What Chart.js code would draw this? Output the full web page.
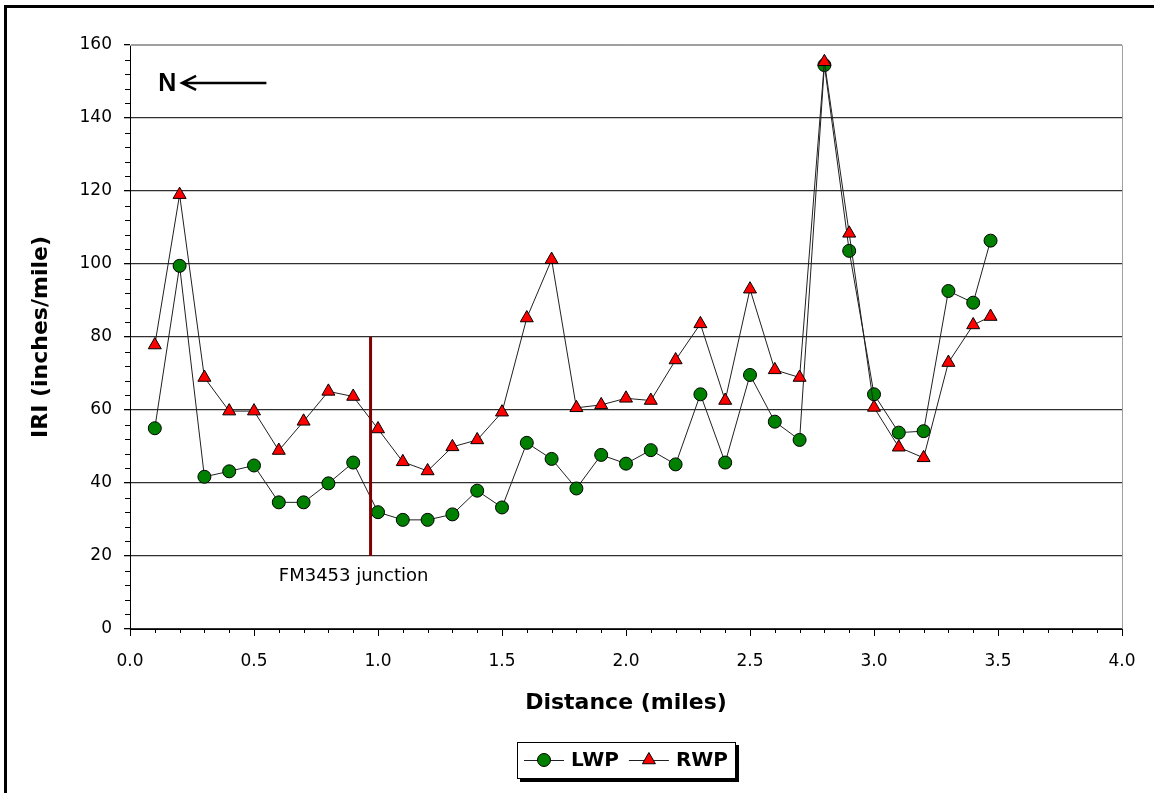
<!DOCTYPE html>
<html>
<head>
<meta charset="utf-8">
<title>IRI along section</title>
<script src="https://cdn.jsdelivr.net/npm/chart.js@4"></script>
<style>
  html, body { margin: 0; padding: 0; background: #fff; }
  #wrap { width: 1154px; height: 793px; }
</style>
</head>
<body>
<div id="wrap"><canvas id="iriChart" width="1154" height="793"></canvas></div>
<script>
// distance from start of section, miles
const distance = [0.1, 0.2, 0.3, 0.4, 0.5, 0.6, 0.7, 0.8, 0.9, 1.0,
                  1.1, 1.2, 1.3, 1.4, 1.5, 1.6, 1.7, 1.8, 1.9, 2.0,
                  2.1, 2.2, 2.3, 2.4, 2.5, 2.6, 2.7, 2.8, 2.9, 3.0,
                  3.1, 3.2, 3.3, 3.4, 3.47];

// left wheel path IRI, inches/mile
const lwp = [55.0, 99.5, 41.7, 43.2, 44.8, 34.7, 34.7, 39.9, 45.6, 32.0,
             29.9, 29.9, 31.4, 37.9, 33.3, 51.0, 46.6, 38.5, 47.7, 45.3,
             49.0, 45.1, 64.3, 45.6, 69.6, 56.8, 51.8, 154.5, 103.6, 64.3,
             53.8, 54.2, 92.6, 89.4, 106.4];

// right wheel path IRI, inches/mile
const rwp = [77.8, 119.0, 68.9, 59.7, 59.7, 48.9, 56.9, 65.1, 63.7, 54.8,
             45.8, 43.3, 49.9, 51.8, 59.4, 85.2, 101.2, 60.6, 61.4, 63.2,
             62.6, 73.7, 83.6, 62.6, 93.1, 71.0, 68.9, 155.4, 108.4, 60.7,
             49.8, 46.9, 73.0, 83.3, 85.6];

const xTicks = { min: 0, max: 4, major: 0.5, minor: 0.1 };
const yTicks = { min: 0, max: 160, major: 20, minor: 4 };

// FM3453 junction marker
const junctionMile = 0.97;
const junctionFrom = 20;
const junctionTo = 80;
const junctionLabel = "FM3453 junction";

// north arrow
const northLabel = "N";
const northAt = { x: 0.15, y: 149.6 };
const arrowFrom = 0.21;
const arrowTo = 0.55;

const fontFamily = "'DejaVu Sans', Arial, sans-serif";

let ctx = document.getElementById('iriChart').getContext('2d');

function toPoints(values) {
    return values.map((v, i) => ({ x: distance[i], y: v }));
}

// black frame on top and left edge of the picture
const frame = {
    id: 'frame',
    afterDraw(chart) {
        const c = chart.ctx;
        c.save();
        c.fillStyle = '#000';
        c.fillRect(4, 5, chart.width - 4, 3);
        c.fillRect(4, 5, 3, chart.height - 5);
        c.restore();
    }
};

// light border round the plot area
const plotBorder = {
    id: 'plotBorder',
    beforeDatasetsDraw(chart) {
        const c = chart.ctx;
        const a = chart.chartArea;
        c.save();
        c.strokeStyle = '#a0a0a0';
        c.lineWidth = 1;
        c.beginPath();
        c.moveTo(a.left, Math.round(a.top) + 0.5);
        c.lineTo(Math.round(a.right) + 0.5, Math.round(a.top) + 0.5);
        c.lineTo(Math.round(a.right) + 0.5, a.bottom);
        c.stroke();
        c.restore();
    }
};

// minor tick marks, Chart.js only draws the major ones
const minorTicks = {
    id: 'minorTicks',
    afterDraw(chart) {
        const c = chart.ctx;
        const xs = chart.scales.x;
        const ys = chart.scales.y;
        const a = chart.chartArea;
        c.save();
        c.strokeStyle = '#000';
        c.lineWidth = 1;
        c.beginPath();
        let nx = Math.round((xTicks.max - xTicks.min) / xTicks.minor);
        let xEvery = Math.round(xTicks.major / xTicks.minor);
        for (let i = 1; i < nx; i++) {
            if (i % xEvery === 0) continue;
            let px = Math.round(xs.getPixelForValue(xTicks.min + i * xTicks.minor)) + 0.5;
            c.moveTo(px, a.bottom);
            c.lineTo(px, a.bottom + 4);
        }
        let ny = Math.round((yTicks.max - yTicks.min) / yTicks.minor);
        let yEvery = Math.round(yTicks.major / yTicks.minor);
        for (let i = 1; i < ny; i++) {
            if (i % yEvery === 0) continue;
            let py = Math.round(ys.getPixelForValue(yTicks.min + i * yTicks.minor)) + 0.5;
            c.moveTo(a.left - 5, py);
            c.lineTo(a.left, py);
        }
        c.stroke();
        c.restore();
    }
};

// junction line + label, north arrow
const annotations = {
    id: 'annotations',
    afterDatasetsDraw(chart) {
        const c = chart.ctx;
        const xs = chart.scales.x;
        const ys = chart.scales.y;
        c.save();

        let jx = xs.getPixelForValue(junctionMile);
        c.strokeStyle = '#800000';
        c.lineWidth = 3;
        c.beginPath();
        c.moveTo(jx, ys.getPixelForValue(junctionFrom));
        c.lineTo(jx, ys.getPixelForValue(junctionTo));
        c.stroke();

        c.fillStyle = '#000';
        c.font = "18px " + fontFamily;
        c.textAlign = 'left';
        c.textBaseline = 'middle';
        c.fillText(junctionLabel, xs.getPixelForValue(0.6), ys.getPixelForValue(14.5));

        // N <----
        let ny = ys.getPixelForValue(northAt.y);
        c.font = "bold 25px 'Liberation Sans', Arial, sans-serif";
        c.textAlign = 'center';
        c.fillText(northLabel, xs.getPixelForValue(northAt.x), ny + 1);

        let x0 = xs.getPixelForValue(arrowFrom);
        let x1 = xs.getPixelForValue(arrowTo);
        c.strokeStyle = '#000';
        c.lineWidth = 2.5;
        c.beginPath();
        c.moveTo(x0 + 1, ny);
        c.lineTo(x1, ny);
        c.moveTo(x0 + 14, ny - 7);
        c.lineTo(x0, ny);
        c.lineTo(x0 + 14, ny + 7);
        c.stroke();
        c.restore();
    }
};

// boxed legend with drop shadow under the x title
const legendBox = {
    id: 'legendBox',
    afterDraw(chart) {
        const c = chart.ctx;
        const a = chart.chartArea;
        const sets = chart.data.datasets;
        const pad = 7, lineLen = 40, gap = 7, itemGap = 10, height = 36;
        c.save();
        c.font = "bold 20px " + fontFamily;
        let widths = sets.map(ds => c.measureText(ds.label).width);
        let width = pad * 2;
        widths.forEach((w, i) => { width += lineLen + gap + w + (i > 0 ? itemGap : 0); });
        width = Math.round(width);
        let left = Math.round((a.left + a.right) / 2 - width / 2);
        let top = Math.round(chart.scales.x.bottom + 26);

        c.fillStyle = '#000';
        c.fillRect(left + 3, top + 3, width + 1, height + 1);
        c.fillStyle = '#fff';
        c.fillRect(left, top, width, height);
        c.strokeStyle = '#000';
        c.lineWidth = 1;
        c.strokeRect(left + 0.5, top + 0.5, width, height);

        let x = left + pad;
        let cy = top + height / 2;
        sets.forEach((ds, i) => {
            if (i > 0) x += itemGap;
            c.strokeStyle = ds.borderColor;
            c.lineWidth = 1;
            c.beginPath();
            c.moveTo(x, Math.round(cy) + 0.5);
            c.lineTo(x + lineLen, Math.round(cy) + 0.5);
            c.stroke();
            c.fillStyle = ds.pointBackgroundColor;
            c.strokeStyle = ds.pointBorderColor;
            Chart.helpers.drawPoint(c, {
                pointStyle: ds.pointStyle,
                radius: ds.pointRadius,
                rotation: 0,
                borderWidth: ds.pointBorderWidth
            }, x + lineLen / 2, cy);
            x += lineLen + gap;
            c.fillStyle = '#000';
            c.textAlign = 'left';
            c.textBaseline = 'middle';
            c.fillText(ds.label, x, cy + 1);
            x += widths[i];
        });
        c.restore();
    }
};

let chart = new Chart(ctx, {
    type: 'line',
    data: {
        datasets: [{
            label: 'LWP',
            data: toPoints(lwp),
            borderColor: '#202020',
            borderWidth: 1,
            pointStyle: 'circle',
            pointRadius: 6.5,
            pointBackgroundColor: '#008000',
            pointBorderColor: '#000',
            pointBorderWidth: 1,
            order: 1
        },
        {
            label: 'RWP',
            data: toPoints(rwp),
            borderColor: '#202020',
            borderWidth: 1,
            pointStyle: 'triangle',
            pointRadius: 7.5,
            pointBackgroundColor: '#ff0000',
            pointBorderColor: '#000',
            pointBorderWidth: 1,
            order: 0
        }]
    },
    options: {
        responsive: false,
        animation: false,
        events: [],
        layout: {
            padding: { left: 0, right: 32, top: 45, bottom: 77 }
        },
        plugins: {
            legend: { display: false },
            tooltip: { enabled: false }
        },
        scales: {
            x: {
                type: 'linear',
                min: xTicks.min,
                max: xTicks.max,
                afterFit: (scale) => { scale.height = 87; },
                border: { color: '#000', width: 1 },
                grid: { drawOnChartArea: false, tickLength: 7, tickColor: '#000' },
                ticks: {
                    stepSize: xTicks.major,
                    color: '#000',
                    padding: 15,
                    font: { family: fontFamily, size: 17 },
                    callback: (v) => v.toFixed(1)
                },
                title: {
                    display: true,
                    text: 'Distance (miles)',
                    color: '#000',
                    padding: { top: 0, bottom: 0 },
                    font: { family: fontFamily, size: 22, weight: 'bold' }
                }
            },
            y: {
                min: yTicks.min,
                max: yTicks.max,
                afterFit: (scale) => { scale.width = 130; },
                border: { color: '#000', width: 1 },
                grid: {
                    color: (c) => c.tick && c.tick.value === yTicks.max ? '#a0a0a0' : '#303030',
                    lineWidth: 1.3,
                    tickLength: 6,
                    tickColor: '#000'
                },
                ticks: {
                    stepSize: yTicks.major,
                    color: '#000',
                    padding: 12,
                    font: { family: fontFamily, size: 17 }
                },
                title: {
                    display: true,
                    text: 'IRI (inches/mile)',
                    color: '#000',
                    padding: { top: 28, bottom: 0 },
                    font: { family: fontFamily, size: 22, weight: 'bold' }
                }
            }
        }
    },
    plugins: [plotBorder, annotations, minorTicks, legendBox, frame]
});
</script>
</body>
</html>
